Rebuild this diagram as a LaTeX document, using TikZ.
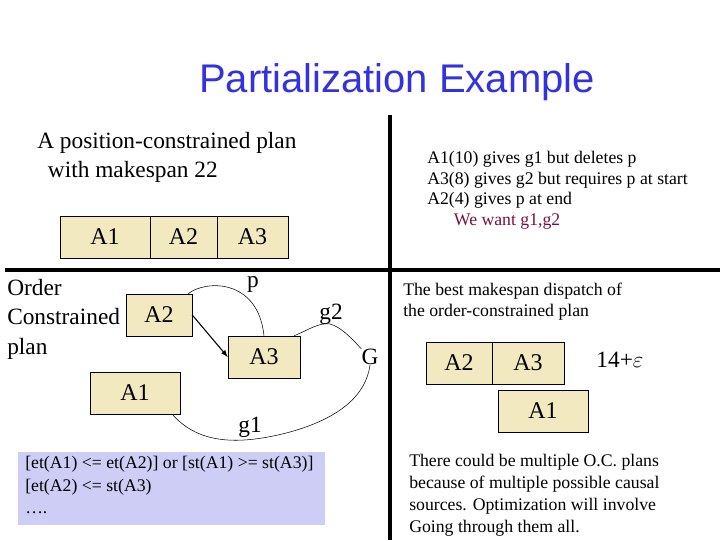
\documentclass[tikz,border=0pt]{standalone}
\usepackage{fontspec}
\setmainfont{Liberation Serif}
\newfontfamily\titlefont{Liberation Sans}
\definecolor{boxfill}{HTML}{F3E9C0}
\definecolor{lav}{HTML}{CDCDF5}
\definecolor{tblue}{HTML}{3333DD}
\definecolor{wine}{HTML}{7A1040}
\begin{document}
\begin{tikzpicture}[x=0.75pt,y=-0.75pt,
  act/.style={draw,fill=boxfill,minimum height=31.5pt,font=\fontsize{18}{20}\selectfont,inner sep=0pt},
  lbl/.style={font=\fontsize{17.5}{22}\selectfont,inner sep=0pt},
  small/.style={font=\fontsize{13.3}{15.5}\selectfont,align=left,inner sep=0pt}]
\useasboundingbox (0,0) rectangle (720,540);
\node[font=\titlefont\fontsize{30}{34}\selectfont,text=tblue] (title) at (397,82) {Partialization Example};
% dividers
\draw[line width=3.5pt] (5,270) -- (720,270);
\draw[line width=3.5pt] (390,115) -- (390,540);
% top-left
\node[lbl,anchor=north west,align=left] (pc) at (37,132) {A position-constrained plan\\\hspace{8pt}with makespan 22};
\node[act,minimum width=67.5pt] (t1) at (105,237) {A1};
\node[act,minimum width=50.25pt] (t2) at (183.5,237) {A2};
\node[act,minimum width=53.25pt] (t3) at (252.5,237) {A3};
% top-right
\node[small,anchor=north west] (info) at (427,151) {A1(10) gives g1 but deletes p\\A3(8) gives g2 but requires p at start\\A2(4) gives p at end\\\hspace{20pt}\textcolor{wine}{We want g1,g2}};
% order-constrained plan
\node[lbl,anchor=north west,align=left] (oc) at (7,279) {Order\\Constrained\\plan};
\node[act,minimum width=49.5pt] (b2) at (159,315) {A2};
\node[act,minimum width=54pt] (b3) at (264,357) {A3};
\node[act,minimum width=67.5pt] (b1) at (135,393) {A1};
\node[lbl] (G) at (370,357) {G};
\node[lbl] (p) at (253,284) {p};
\node[lbl] (g2) at (331,314) {g2};
\node[lbl] (g1) at (250,427) {g1};
\draw[-latex,thick] (b2.east) -- (b3.west);
\draw (b2.north east) ++(-4,0) coordinate (ps) .. controls (205,280) and (258,278) .. (b3.north);
\draw (b3.north east) ++(-6,0) coordinate (gs) .. controls (308,330) and (320,322) .. (330,324) .. controls (342,327) and (355,342) .. (G.north west);
\draw (b1.south east) ++(-8,0) coordinate (gs1) .. controls (195,440) and (230,448) .. (290,432) .. controls (340,418) and (366,395) .. (G.south);
% constraint box
\node[fill=lav,minimum width=230.25pt,minimum height=54.75pt,anchor=north west,inner sep=0pt] (cb) at (18,452) {};
\node[small,anchor=north west,font=\fontsize{13.3}{17}\selectfont] (ct) at (25,456) {[et(A1) <= et(A2)] or [st(A1) >= st(A3)]\\{}[et(A2) <= st(A3)\\….};
% right middle
\node[small,anchor=north west] (best) at (403,283) {The best makespan dispatch of\\the order-constrained plan};
\node[act,minimum width=49.5pt] (r2) at (459,363) {A2};
\node[act,minimum width=54pt] (r3) at (528,363) {A3};
\node[lbl] (eps) at (620,360) {14+$\varepsilon$};
\node[act,minimum width=67.5pt] (r1) at (543,411) {A1};
\node[small,anchor=north west,font=\fontsize{13.3}{16.5}\selectfont] (note) at (409,454) {There could be multiple O.C. plans\\because of multiple possible causal\\sources. Optimization will involve\\Going through them all.};
\end{tikzpicture}
\end{document}
